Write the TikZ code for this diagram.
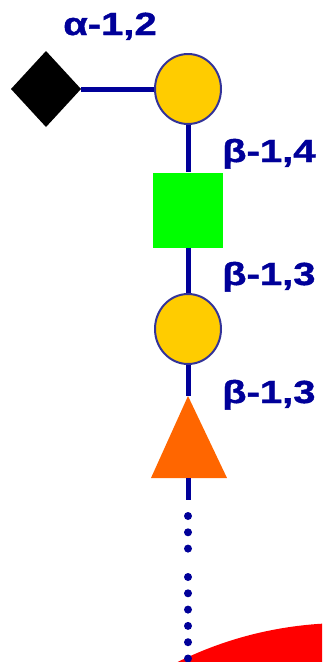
\documentclass[tikz,border=0pt]{standalone}
\usepackage{fontspec}
\usepackage{xcolor}
\usepackage{tikz}
\usetikzlibrary{shapes.geometric}
\newfontfamily\linkfont[FakeStretch=1.25,FakeBold=1.2]{Liberation Sans Bold}
\definecolor{linkblue}{RGB}{0,0,153}
\definecolor{rimblue}{RGB}{51,51,153}
\definecolor{galyellow}{RGB}{255,204,0}
\definecolor{glcgreen}{RGB}{0,255,0}
\definecolor{triorange}{RGB}{255,102,0}

\begin{document}
\begin{tikzpicture}[x=1pt, y=-1pt,
    link/.style={draw=linkblue, line width=5pt},
    dots/.style={draw=linkblue, line width=8pt, line cap=round, dash pattern=on 0pt off 16.3pt},
    gal/.style={ellipse, fill=galyellow, draw=rimblue, line width=2pt, minimum width=66pt, minimum height=70pt, inner sep=0pt},
    glc/.style={rectangle, fill=glcgreen, minimum width=70pt, minimum height=75pt, inner sep=0pt},
    sia/.style={diamond, fill=black, minimum width=70pt, minimum height=76pt, inner sep=0pt, outer sep=0pt},
    linklabel/.style={anchor=base west, text=linkblue, inner sep=0pt, font=\linkfont\fontsize{32}{32}\selectfont}
]
\useasboundingbox (0,0) rectangle (322,662);

% red blob at the bottom
\begin{scope}
\clip (0,0) rectangle (322,662);
\fill[red] (345,1001) circle (378);
\end{scope}

% residues
\node[sia] (sia) at (46,89) {};
\node[gal] (gal1) at (188,89) {};
\node[glc] (glc) at (188,210) {};
\node[gal] (gal2) at (188,329) {};
\fill[triorange] (188,396) -- (227,478) -- (151,478) -- cycle;
\coordinate (tritop) at (188,396);
\coordinate (tribase) at (188,478);
\coordinate (stem) at (188,500);

% linkages
\draw[link] (sia.east) -- (gal1.west);
\draw[link] (gal1.south) -- (glc.north);
\draw[link] (glc.south) -- (gal2.north);
\draw[link] (gal2.south) -- (tritop);
\draw[link] (tribase) -- (stem);

% dotted tail
\coordinate (dotA) at (188,516);
\coordinate (dotB) at (188,552);
\coordinate (dotC) at (188,577);
\coordinate (dotD) at (188,662);
\draw[dots] (dotA) -- (dotB);
\draw[dots] (dotC) -- (dotD);

% labels
\node[linklabel] (l12) at (63,35) {α-1,2};
\node[linklabel] (l14) at (222,162) {β-1,4};
\node[linklabel] (l13a) at (222,285) {β-1,3};
\node[linklabel] (l13b) at (222,403) {β-1,3};
\end{tikzpicture}
\end{document}
